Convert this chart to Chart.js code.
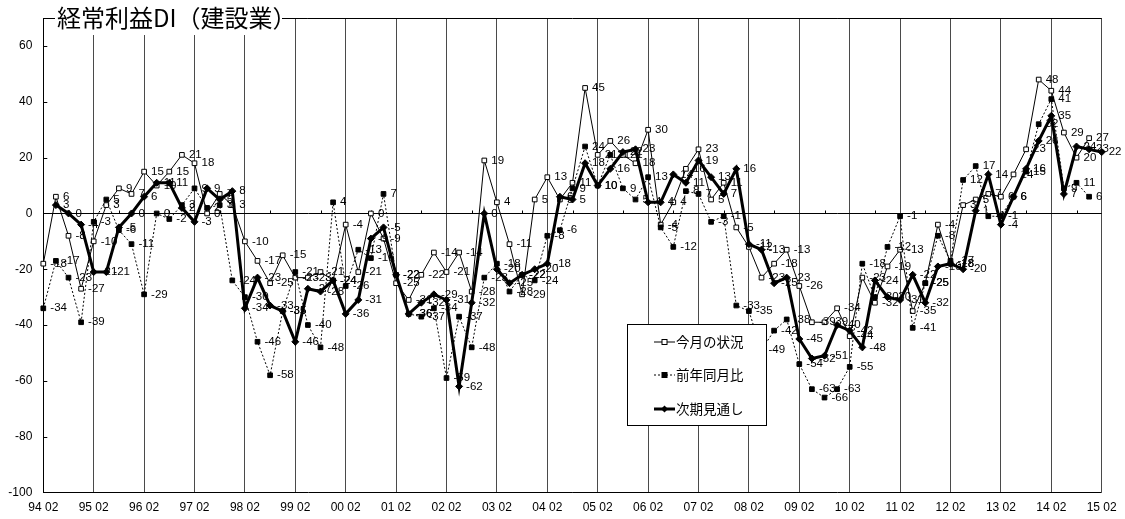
<!DOCTYPE html>
<html>
<head>
<meta charset="utf-8">
<script src="https://cdn.jsdelivr.net/npm/chart.js@4.4.1/dist/chart.umd.min.js"></script>
<style>
  html, body { margin: 0; padding: 0; background: #fff; }
  #wrap { width: 1125px; height: 519px; position: relative; }
</style>
</head>
<body>
<div id="wrap"><canvas id="c" width="1125" height="519"></canvas></div>
<script>
// Survey periods (year + month), quarterly
const periods = [
  "94 02","94 05","94 08","94 11","95 02","95 05","95 08","95 11",
  "96 02","96 05","96 08","96 11","97 02","97 05","97 08","97 11",
  "98 02","98 05","98 08","98 11","99 02","99 05","99 08","99 11",
  "00 02","00 05","00 08","00 11","01 02","01 05","01 08","01 11",
  "02 02","02 05","02 08","02 11","03 02","03 05","03 08","03 11",
  "04 02","04 05","04 08","04 11","05 02","05 05","05 08","05 11",
  "06 02","06 05","06 08","06 11","07 02","07 05","07 08","07 11",
  "08 02","08 05","08 08","08 11","09 02","09 05","09 08","09 11",
  "10 02","10 05","10 08","10 11","11 02","11 05","11 08","11 11",
  "12 02","12 05","12 08","12 11","13 02","13 05","13 08","13 11",
  "14 02","14 05","14 08","14 11","15 02"
];

// 今月の状況
const currentDI = [
  -18, 6, -8, -27, -10, 3, 9, 7, 15, 10,
  15, 21, 18, 0, 7, 3, -10, -17, -25, -15,
  -23, -23, -21, -24, -4, -21, 0, -9, -25, -31,
  -22, -14, -21, -14, -28, 19, 4, -11, -29, 5,
  13, 5, 11, 45, 21, 26, 21, 18, 30, -4,
  4, 16, 23, 5, 11, -5, -12, -23, -18, -13,
  -26, -39, -39, -34, -44, -23, -32, -19, -13, -35,
  -25, -4, -18, 3, 5, 7, 6, 14, 23, 48,
  44, 29, 20, 27, null
];

// 前年同月比
const yearOnYearDI = [
  -34, -17, -23, -39, -3, 5, -6, -11, -29, 0,
  -2, 3, 9, 2, 3, -24, -30, -46, -58, -35,
  -21, -40, -48, 4, -26, -13, -16, 7, -22, -36,
  -37, -34, -59, -37, -48, -23, -18, -28, -22, -24,
  -8, -6, 9, 24, 10, 21, 9, 5, 13, -5,
  -12, 8, 7, -3, -1, -33, -35, -49, -42, -38,
  -54, -63, -66, -63, -55, -18, -30, -12, -1, -41,
  -25, -8, -17, 12, 17, -1, -1, 6, 15, 32,
  41, 9, 11, 6, null
];

// 次期見通し
const outlookDI = [
  null, 3, 0, -4, -21, -21, -5, 0, 6, 11,
  11, 2, -3, 9, 5, 8, -34, -23, -33, -35,
  -46, -27, -28, -24, -36, -31, -9, -5, -22, -36,
  -32, -29, -31, -62, -32, 0, -20, -25, -22, -20,
  -18, 6, 5, 18, 10, 16, 22, 23, 4, 4,
  14, 11, 19, 13, 7, 16, -11, -13, -25, -23,
  -45, -52, -51, -40, -42, -48, -24, -30, -31, -22,
  -32, -19, -18, -20, 1, 14, -4, 6, 16, 26,
  35, 7, 24, 23, 22
];

const yTicks = [-100, -80, -60, -40, -20, 0, 20, 40, 60];
const titleText = "経常利益DI（建設業）";
const seriesNames = ["今月の状況", "前年同月比", "次期見通し"];

const numFont = '"Liberation Sans", Arial, sans-serif';
const jpFont = '"Noto Sans CJK JP", "Noto Sans", sans-serif';

// Plot frame, inner y-axis ticks and half-year ticks on the zero line
const framePlugin = {
  id: 'frame',
  beforeDatasetsDraw(chart) {
    const { ctx, chartArea: a, scales: { x, y } } = chart;
    ctx.save();
    ctx.strokeStyle = '#000';
    ctx.lineWidth = 1;
    ctx.beginPath();
    const top = Math.round(a.top) + 0.5;
    ctx.moveTo(a.left, top); ctx.lineTo(a.right, top);
    yTicks.forEach(v => {
      const py = Math.round(y.getPixelForValue(v)) + 0.5;
      ctx.moveTo(a.left, py); ctx.lineTo(a.left + 4, py);
    });
    const y0 = Math.round(y.getPixelForValue(0)) + 0.5;
    periods.forEach((p, i) => {
      if (i % 4 === 2) {
        const px = Math.round(x.getPixelForValue(i)) + 0.5;
        ctx.moveTo(px, y0); ctx.lineTo(px, y0 - 3);
      }
    });
    ctx.stroke();
    ctx.restore();
  }
};

// Value labels to the right of every point
const valueLabelPlugin = {
  id: 'valueLabels',
  afterDatasetsDraw(chart) {
    const { ctx } = chart;
    ctx.save();
    ctx.font = '11.5px ' + numFont;
    ctx.fillStyle = '#000';
    ctx.textAlign = 'left';
    ctx.textBaseline = 'middle';
    chart.data.datasets.forEach((ds, di) => {
      const meta = chart.getDatasetMeta(di);
      meta.data.forEach((pt, i) => {
        const v = ds.data[i];
        if (v === null || v === undefined) return;
        ctx.fillText(String(v), pt.x + 7, pt.y);
      });
    });
    ctx.restore();
  }
};

// Title on a white patch over the top border, and the boxed legend
const overlayPlugin = {
  id: 'overlay',
  afterDraw(chart) {
    const { ctx } = chart;
    ctx.save();
    ctx.fillStyle = '#fff';
    ctx.fillRect(55, 0, 227, 35);
    ctx.fillStyle = '#000';
    ctx.font = '24px ' + jpFont;
    ctx.textBaseline = 'middle';
    ctx.textAlign = 'left';
    ctx.fillText(titleText, 57, 18);

    // legend box
    const bx = 627.5, by = 324.5, bw = 139, bh = 101;
    ctx.fillStyle = '#fff';
    ctx.fillRect(bx, by, bw, bh);
    ctx.strokeStyle = '#000';
    ctx.lineWidth = 1;
    ctx.strokeRect(bx, by, bw, bh);

    const rows = [342, 375, 409];
    chart.data.datasets.forEach((ds, di) => {
      const ly = rows[di];
      ctx.save();
      ctx.strokeStyle = '#000';
      ctx.lineWidth = ds.borderWidth;
      ctx.setLineDash(ds.borderDash || []);
      ctx.beginPath();
      ctx.moveTo(654, ly); ctx.lineTo(675, ly);
      ctx.stroke();
      ctx.setLineDash([]);
      ctx.lineWidth = 1;
      const mx = 664.5;
      if (ds.pointStyle === 'rectRot') {
        const r = 3.5;
        ctx.beginPath();
        ctx.moveTo(mx, ly - r); ctx.lineTo(mx + r, ly); ctx.lineTo(mx, ly + r); ctx.lineTo(mx - r, ly);
        ctx.closePath();
        ctx.fillStyle = '#000'; ctx.fill();
      } else {
        ctx.fillStyle = ds.pointBackgroundColor;
        ctx.fillRect(mx - 2.5, ly - 2.5, 5, 5);
        ctx.strokeRect(mx - 2.5, ly - 2.5, 5, 5);
      }
      ctx.restore();
      ctx.fillStyle = '#000';
      ctx.font = '13.5px ' + jpFont;
      ctx.textBaseline = 'middle';
      ctx.fillText(ds.label, 676, ly);
    });
    ctx.restore();
  }
};

new Chart(document.getElementById('c'), {
  type: 'line',
  data: {
    labels: periods,
    datasets: [
      {
        label: seriesNames[0], data: currentDI, order: 3,
        borderColor: '#000', borderWidth: 1,
        pointStyle: 'rect', pointRadius: 3.3, pointBorderWidth: 1,
        pointBackgroundColor: '#fff', pointBorderColor: '#000',
        tension: 0, spanGaps: false
      },
      {
        label: seriesNames[1], data: yearOnYearDI, order: 2,
        borderColor: '#000', borderWidth: 1, borderDash: [2, 2],
        pointStyle: 'rect', pointRadius: 3.3, pointBorderWidth: 1,
        pointBackgroundColor: '#000', pointBorderColor: '#000',
        tension: 0
      },
      {
        label: seriesNames[2], data: outlookDI, order: 1,
        borderColor: '#000', borderWidth: 3,
        pointStyle: 'rectRot', pointRadius: 3.5, pointBorderWidth: 1,
        pointBackgroundColor: '#000', pointBorderColor: '#000',
        tension: 0
      }
    ]
  },
  options: {
    responsive: false,
    animation: false,
    events: [],
    layout: { padding: { top: 13.5, right: 23.3, left: 0, bottom: 0 } },
    plugins: {
      legend: { display: false },
      tooltip: { enabled: false },
      title: { display: false }
    },
    scales: {
      x: {
        type: 'category',
        offset: false,
        position: 'bottom',
        grid: {
          drawTicks: false,
          lineWidth: 1,
          color: c => (c.index % 4 === 0 ? '#4a4a4a' : 'rgba(0,0,0,0)')
        },
        border: { display: false },
        ticks: {
          autoSkip: false, maxRotation: 0, minRotation: 0,
          padding: 8, color: '#000',
          font: { family: numFont, size: 12 },
          callback: (v, i) => (i % 4 === 0 ? periods[i] : '')
        },
        afterFit: s => { s.height = 26.6; }
      },
      y: {
        min: -100, max: 70,
        afterBuildTicks: s => { s.ticks = yTicks.map(v => ({ value: v })); },
        grid: {
          drawTicks: false,
          lineWidth: 1,
          color: c => (c.tick && (c.tick.value === 0 || c.tick.value === -100) ? '#000' : 'rgba(0,0,0,0)')
        },
        border: { display: true, color: '#000', width: 1 },
        ticks: {
          padding: 11, color: '#000',
          font: { family: numFont, size: 12 }
        },
        afterFit: s => { s.width = 43.3; }
      }
    }
  },
  plugins: [framePlugin, valueLabelPlugin, overlayPlugin]
});
</script>
</body>
</html>
